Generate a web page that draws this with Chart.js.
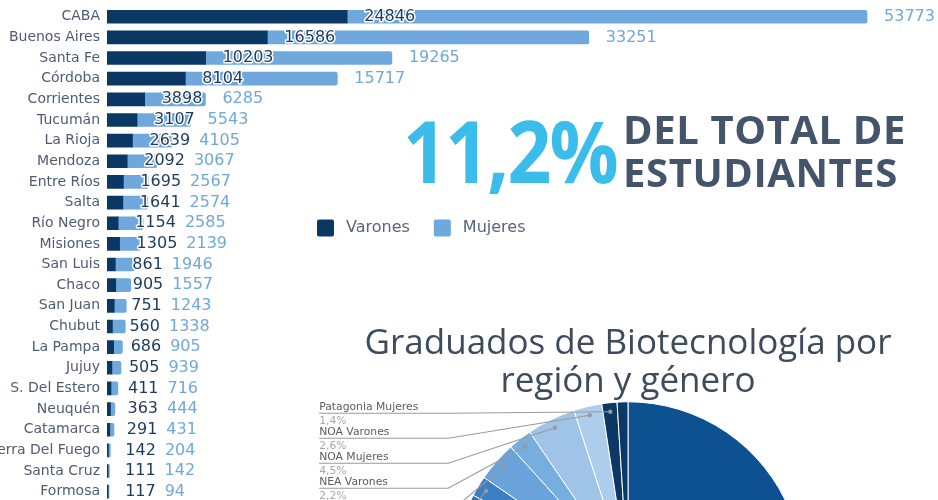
<!DOCTYPE html>
<html>
<head>
<meta charset="utf-8">
<script src="https://cdn.jsdelivr.net/npm/chart.js@4.4.0/dist/chart.umd.min.js"></script>
<style>
  html, body { margin: 0; padding: 0; background: #fff; }
  #wrap { position: relative; width: 938px; height: 500px; overflow: hidden; }
  canvas { position: absolute; }
  #barChart { left: 0; top: 0; }
  #pieChart { left: 310px; top: 300px; }
  .big { position: absolute; font-family: "Open Sans"; font-weight: 700; line-height: 1; white-space: nowrap; transform-origin: 0 0; }
  #pct { left: 403px; top: 107px; font-size: 86px; color: #3bbdec; letter-spacing: -2px; }
  #t1 { left: 623px; top: 109px; font-size: 40px; color: #44546a; letter-spacing: 0.6px; }
  #t2 { left: 623px; top: 152px; font-size: 40px; color: #44546a; letter-spacing: 0.6px; }
</style>
</head>
<body>
<div id="wrap">
  <canvas id="barChart" width="938" height="506"></canvas>
  <canvas id="pieChart" width="636" height="452"></canvas>
  <div class="big" id="pct">11,2%</div>
  <div class="big" id="t1">DEL TOTAL DE</div>
  <div class="big" id="t2">ESTUDIANTES</div>
</div>
<script>
// estudiantes por provincia
var provincias = ['CABA', 'Buenos Aires', 'Santa Fe', 'Córdoba', 'Corrientes', 'Tucumán', 'La Rioja',
    'Mendoza', 'Entre Ríos', 'Salta', 'Río Negro', 'Misiones', 'San Luis', 'Chaco', 'San Juan',
    'Chubut', 'La Pampa', 'Jujuy', 'S. Del Estero', 'Neuquén', 'Catamarca', 'Tierra Del Fuego',
    'Santa Cruz', 'Formosa'];
var varones = [24846, 16586, 10203, 8104, 3898, 3107, 2639, 2092, 1695, 1641, 1154, 1305, 861, 905,
    751, 560, 686, 505, 411, 363, 291, 142, 111, 117];
var mujeres = [53773, 33251, 19265, 15717, 6285, 5543, 4105, 3067, 2567, 2574, 2585, 2139, 1946, 1557,
    1243, 1338, 905, 939, 716, 444, 431, 204, 142, 94];

// graduados por region y genero (%)
var regiones = ['Buenos Aires Mujeres', 'Buenos Aires Varones', 'CABA Mujeres', 'CABA Varones',
    'Centro Mujeres', 'Centro Varones', 'Cuyo Mujeres', 'Cuyo Varones', 'NEA Mujeres', 'NEA Varones',
    'NOA Mujeres', 'NOA Varones', 'Patagonia Mujeres', 'Patagonia Varones'];
var graduados = [38.0, 17.5, 9.0, 5.0, 7.0, 3.6, 2.6, 1.9, 3.7, 2.2, 4.5, 2.6, 1.4, 1.0];
var coloresRegion = ['#0d5191', '#1a5fa5', '#2a6fb5', '#1e4f80', '#4a89c9', '#2b6cb0', '#2e6db3',
    '#3d7fc4', '#6aa3db', '#77aee0', '#9fc4e8', '#aecdec', '#0c3866', '#0c3866'];

// el numero grande ocupa el ancho del original
var pctEl = document.getElementById('pct');
pctEl.style.transform = 'scaleX(' + (214 / pctEl.getBoundingClientRect().width) + ')';

var barLabels = {
    id: 'barLabels',
    afterDatasetsDraw: function (chart) {
        var ctx = chart.ctx;
        var xs = chart.scales.x;
        ctx.save();
        ctx.font = '16px "DejaVu Sans"';
        ctx.textBaseline = 'middle';
        ctx.textAlign = 'left';
        ctx.lineJoin = 'round';
        chart.getDatasetMeta(0).data.forEach(function (bar, i) {
            var xv = xs.getPixelForValue(varones[i]);
            var xt = xs.getPixelForValue(varones[i] + mujeres[i]);
            var t1 = String(varones[i]);
            var x1 = xv + 17;
            ctx.lineWidth = 3;
            ctx.strokeStyle = '#ffffff';
            ctx.strokeText(t1, x1, bar.y);
            ctx.fillStyle = '#1b3a5e';
            ctx.fillText(t1, x1, bar.y);
            var x2 = Math.max(xt + 17, x1 + ctx.measureText(t1).width + 9);
            ctx.fillStyle = '#6fa8dc';
            ctx.fillText(String(mujeres[i]), x2, bar.y);
        });
        ctx.restore();
    }
};

var legendBox = {
    id: 'legendBox',
    afterDraw: function (chart) {
        var ctx = chart.ctx;
        var x = 317, y = 228;
        ctx.save();
        ctx.font = '16px "DejaVu Sans"';
        ctx.textBaseline = 'middle';
        chart.data.datasets.forEach(function (ds) {
            ctx.fillStyle = ds.backgroundColor;
            ctx.beginPath();
            ctx.roundRect(x, y - 8.5, 17, 17, 2);
            ctx.fill();
            ctx.fillStyle = '#5b6577';
            ctx.fillText(ds.label, x + 29, y);
            x += 29 + ctx.measureText(ds.label).width + 24;
        });
        ctx.restore();
    }
};

var pieLabels = {
    id: 'pieLabels',
    afterDatasetsDraw: function (chart) {
        var ctx = chart.ctx;
        var total = graduados.reduce(function (a, b) { return a + b; }, 0);
        var items = [];
        chart.getDatasetMeta(0).data.forEach(function (arc, i) {
            var pct = graduados[i] / total * 100;
            if (pct < 1.2) return;
            var mid = (arc.startAngle + arc.endAngle) / 2;
            var r = arc.outerRadius - 9;
            items.push({
                i: i, pct: pct, cx: arc.x, R: arc.outerRadius,
                dx: arc.x + r * Math.cos(mid), dy: arc.y + r * Math.sin(mid),
                left: Math.cos(mid) < 0
            });
        });
        ctx.save();
        [true, false].forEach(function (side) {
            var list = items.filter(function (it) { return it.left === side; })
                .sort(function (a, b) { return a.dy - b.dy; });
            var prev = -Infinity;
            list.forEach(function (it) {
                var ly = Math.max(it.dy + 1.5, prev + 25);
                prev = ly;
                var edge = side ? it.cx - it.R - 134 : it.cx + it.R + 134;
                var elbow = side ? edge + 129 : edge - 129;
                ctx.strokeStyle = '#9a9a9a';
                ctx.lineWidth = 1.2;
                ctx.beginPath();
                ctx.moveTo(edge, ly);
                ctx.lineTo(elbow, ly);
                ctx.lineTo(it.dx, it.dy);
                ctx.stroke();
                ctx.fillStyle = '#9a9a9a';
                ctx.beginPath();
                ctx.arc(it.dx, it.dy, 2.2, 0, 2 * Math.PI);
                ctx.fill();
                ctx.textAlign = side ? 'left' : 'right';
                ctx.textBaseline = 'alphabetic';
                ctx.font = '10.8px "DejaVu Sans"';
                ctx.fillStyle = '#5c5c5c';
                ctx.fillText(regiones[it.i], edge, ly - 3);
                ctx.fillStyle = '#a8a8a8';
                ctx.fillText(it.pct.toFixed(1).replace('.', ',') + '%', edge, ly + 11);
            });
        });
        ctx.restore();
    }
};

new Chart(document.getElementById('barChart'), {
    type: 'bar',
    data: {
        labels: provincias,
        datasets: [{
            label: 'Varones',
            data: varones,
            backgroundColor: '#0b3764',
            barThickness: 13,
            borderRadius: 0
        }, {
            label: 'Mujeres',
            data: mujeres,
            backgroundColor: '#6fa8dc',
            barThickness: 13,
            borderRadius: 2
        }]
    },
    options: {
        indexAxis: 'y',
        responsive: false,
        animation: false,
        layout: { padding: { top: 6.4, bottom: 4, left: 0, right: 57.6 } },
        scales: {
            x: { stacked: true, display: false, min: 0, max: 80000 },
            y: {
                stacked: true,
                grid: { display: false, drawTicks: false },
                border: { display: false },
                ticks: { color: '#4f5c6e', font: { family: '"DejaVu Sans"', size: 14 }, padding: 7, autoSkip: false },
                afterFit: function (s) {
                    s.width = 107;
                    s.paddingTop = 0;
                    s.paddingBottom = 0;
                }
            }
        },
        plugins: { legend: { display: false }, tooltip: { enabled: false } }
    },
    plugins: [barLabels, legendBox]
});

new Chart(document.getElementById('pieChart'), {
    type: 'pie',
    data: {
        labels: regiones,
        datasets: [{
            data: graduados,
            backgroundColor: coloresRegion,
            borderColor: '#ffffff',
            borderWidth: 1
        }]
    },
    options: {
        responsive: false,
        animation: false,
        layout: { padding: 0 },
        plugins: {
            legend: { display: false },
            tooltip: { enabled: false },
            title: {
                display: true,
                text: ['Graduados de Biotecnología por', 'región y género'],
                color: '#3e4b5c',
                font: { family: '"Open Sans"', size: 35, weight: 'normal', lineHeight: 1.09 },
                padding: { top: 25, bottom: 0 }
            }
        }
    },
    plugins: [pieLabels]
});
</script>
</body>
</html>
